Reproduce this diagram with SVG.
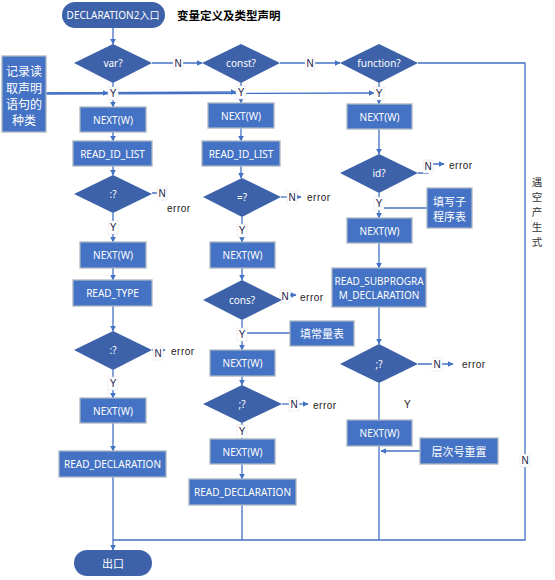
<svg xmlns="http://www.w3.org/2000/svg" width="555" height="580" viewBox="0 0 555 580">
<defs>
<marker id="ar" viewBox="0 0 10 10" refX="9" refY="5" markerWidth="6" markerHeight="6" orient="auto" markerUnits="userSpaceOnUse">
<path d="M0,0 L10,5 L0,10 z" fill="#4472C4"/>
</marker>
<style>
.t{font-family:"Noto Sans","Noto Sans CJK SC",sans-serif;font-size:10px;fill:#fff;text-anchor:middle;dominant-baseline:central}
.box{fill:#4472C4;stroke:#A9B4C4;stroke-width:1.3}
.dia{fill:#3D62AA}
.term{fill:#3D62AA}
.c{fill:none;stroke:#4472C4;stroke-width:1.3}
.ca{fill:none;stroke:#4472C4;stroke-width:1.3;marker-end:url(#ar)}
.lb rect{fill:#fff;stroke:#ddd;stroke-width:0.5}
.lb text{font-family:"Liberation Sans",sans-serif;font-size:10px;fill:#1a1a4a;text-anchor:middle;dominant-baseline:central}
.err{font-family:"Liberation Sans",sans-serif;font-size:10px;fill:#222;dominant-baseline:central;letter-spacing:0.5px}
.vt{font-family:"Noto Sans CJK SC",sans-serif;font-size:10.5px;fill:#333;text-anchor:middle;dominant-baseline:central}
</style>
</defs>
<rect width="555" height="580" fill="#fff"/>

<g id="connectors">
<path class="ca" d="M113,28 V44"/>
<path class="ca" d="M113,83 V107"/>
<path class="ca" d="M152,63 H202"/>
<path class="ca" d="M280,63 H340"/>
<path class="c" d="M418,63 H525 V540 H113"/>
<path class="ca" d="M241,83 V103"/>
<path class="ca" d="M379,83 V104"/>
<path class="ca" d="M46,93 H108"/>
<path class="ca" d="M46,93 L236,92"/>
<path class="ca" d="M46,94 L374,93"/>
<!-- left column -->
<path class="ca" d="M113,132 V141"/>
<path class="ca" d="M113,166 V175"/>
<path class="ca" d="M152,193 H163 V200"/>
<path class="ca" d="M113,213 V242"/>
<path class="ca" d="M113,268 V280"/>
<path class="ca" d="M113,306 V331"/>
<path class="ca" d="M152,350 H165"/>
<path class="ca" d="M113,370 V398"/>
<path class="ca" d="M113,423 V451"/>
<path class="ca" d="M113,477 V550"/>
<!-- middle column -->
<path class="ca" d="M241,128 V141"/>
<path class="ca" d="M241,166 V178"/>
<path class="ca" d="M281,197 H301"/>
<path class="ca" d="M242,217 V242"/>
<path class="ca" d="M242,268 V280"/>
<path class="ca" d="M282,300 H286 V295 H296"/>
<path class="ca" d="M242,320 V350"/>
<path class="c" d="M290,333 H242"/>
<path class="ca" d="M242,376 V385"/>
<path class="ca" d="M282,404 H308"/>
<path class="ca" d="M242,423 V439"/>
<path class="ca" d="M242,464 V479"/>
<path class="c" d="M242,505 V540"/>
<!-- right column -->
<path class="ca" d="M379,129 V154"/>
<path class="ca" d="M418,173 H428 V164 H444"/>
<path class="ca" d="M379,193 V218"/>
<path class="c" d="M427,208 H379"/>
<path class="ca" d="M379,243 V268"/>
<path class="ca" d="M379,307 V344"/>
<path class="ca" d="M418,364 H453"/>
<path class="c" d="M379,383 V540"/>
<path class="ca" d="M420,451 H381"/>
</g>

<g id="labels">
<g class="lb"><rect x="173" y="57" width="10" height="13"/><text x="178" y="63.5">N</text></g>
<g class="lb"><rect x="305" y="57" width="10" height="13"/><text x="310" y="63.5">N</text></g>
<g class="lb"><rect x="108" y="87" width="10" height="13"/><text x="113" y="93.5">Y</text></g>
<g class="lb"><rect x="236" y="86" width="10" height="13"/><text x="241" y="92.5">Y</text></g>
<g class="lb"><rect x="374" y="87" width="10" height="13"/><text x="379" y="93.5">Y</text></g>
<g class="lb"><rect x="157" y="187" width="10" height="13"/><text x="162" y="193.5">N</text></g>
<g class="lb"><rect x="108" y="221" width="10" height="13"/><text x="113" y="227.5">Y</text></g>
<g class="lb"><rect x="153" y="347" width="10" height="13"/><text x="158" y="353.5">N</text></g>
<g class="lb"><rect x="108" y="377" width="10" height="13"/><text x="113" y="383.5">Y</text></g>
<g class="lb"><rect x="287" y="191" width="10" height="13"/><text x="292" y="197.5">N</text></g>
<g class="lb"><rect x="237" y="224" width="10" height="13"/><text x="242" y="230.5">Y</text></g>
<g class="lb"><rect x="280" y="290" width="10" height="13"/><text x="285" y="296.5">N</text></g>
<g class="lb"><rect x="237" y="328" width="10" height="13"/><text x="242" y="334.5">Y</text></g>
<g class="lb"><rect x="289" y="398" width="10" height="13"/><text x="294" y="404.5">N</text></g>
<g class="lb"><rect x="237" y="425" width="10" height="13"/><text x="242" y="431.5">Y</text></g>
<g class="lb"><rect x="423" y="160" width="10" height="13"/><text x="428" y="166.5">N</text></g>
<g class="lb"><rect x="374" y="197" width="10" height="13"/><text x="379" y="203.5">Y</text></g>
<g class="lb"><rect x="432" y="358" width="10" height="13"/><text x="437" y="364.5">N</text></g>
<g class="lb"><rect x="520" y="454" width="10" height="13"/><text x="525" y="460.5">N</text></g>
<text class="err" x="167" y="208">error</text>
<text class="err" x="171" y="351">error</text>
<text class="err" x="307" y="197">error</text>
<text class="err" x="300" y="297">error</text>
<text class="err" x="313" y="405">error</text>
<text class="err" x="449" y="165">error</text>
<text class="err" x="462" y="364">error</text>
<text class="err" x="404" y="404" style="letter-spacing:0">Y</text>
<text x="177" y="15" style="font-family:'Noto Sans CJK SC',sans-serif;font-size:11.5px;font-weight:bold;fill:#000;dominant-baseline:central">变量定义及类型声明</text>
<text class="vt" x="537" y="181">遇</text>
<text class="vt" x="537" y="196">空</text>
<text class="vt" x="537" y="211">产</text>
<text class="vt" x="537" y="226">生</text>
<text class="vt" x="537" y="241">式</text>
</g>

<g id="start"><rect class="term" x="62" y="2" width="103" height="26" rx="13"/><text class="t" x="113" y="15">DECLARATION2入口</text></g>
<g id="end"><rect class="term" x="74" y="550" width="78" height="26" rx="13"/><text class="t" x="113" y="563" style="font-size:11px">出口</text></g>
<g id="note-kind"><rect class="box" x="2" y="56" width="44" height="76"/>
<text class="t" x="24" y="71" style="font-size:12px">记录读</text>
<text class="t" x="24" y="88" style="font-size:12px">取声明</text>
<text class="t" x="24" y="104" style="font-size:12px">语句的</text>
<text class="t" x="24" y="120" style="font-size:12px">种类</text></g>

<g id="d-var"><path class="dia" d="M113,44 L152,63 L113,83 L74,63 z"/><text class="t" x="113" y="63">var?</text></g>
<g id="d-const"><path class="dia" d="M241,44 L280,63 L241,83 L202,63 z"/><text class="t" x="241" y="63">const?</text></g>
<g id="d-function"><path class="dia" d="M379,44 L418,63 L379,83 L340,63 z"/><text class="t" x="379" y="63">function?</text></g>

<g id="l-next1"><rect class="box" x="80" y="107" width="66" height="25"/><text class="t" x="113" y="119.5">NEXT(W)</text></g>
<g id="l-readid"><rect class="box" x="73" y="141" width="79" height="25"/><text class="t" x="112.5" y="153.5">READ_ID_LIST</text></g>
<g id="l-colon1"><path class="dia" d="M113,175 L152,194 L113,213 L74,194 z"/><text class="t" x="113" y="194">:?</text></g>
<g id="l-next2"><rect class="box" x="80" y="242" width="66" height="26"/><text class="t" x="113" y="255">NEXT(W)</text></g>
<g id="l-readtype"><rect class="box" x="73" y="280" width="79" height="26"/><text class="t" x="112.5" y="293">READ_TYPE</text></g>
<g id="l-colon2"><path class="dia" d="M113,331 L152,350 L113,370 L74,350 z"/><text class="t" x="113" y="350">:?</text></g>
<g id="l-next3"><rect class="box" x="80" y="398" width="66" height="25"/><text class="t" x="113" y="410.5">NEXT(W)</text></g>
<g id="l-readdecl"><rect class="box" x="59" y="451" width="107" height="26"/><text class="t" x="112.5" y="464">READ_DECLARATION</text></g>

<g id="m-next1"><rect class="box" x="208" y="103" width="66" height="25"/><text class="t" x="241" y="115.5">NEXT(W)</text></g>
<g id="m-readid"><rect class="box" x="202" y="141" width="78" height="25"/><text class="t" x="241" y="153.5">READ_ID_LIST</text></g>
<g id="m-eq"><path class="dia" d="M242,178 L281,197 L242,217 L203,197 z"/><text class="t" x="242" y="197">=?</text></g>
<g id="m-next2"><rect class="box" x="210" y="242" width="65" height="26"/><text class="t" x="242.5" y="255">NEXT(W)</text></g>
<g id="m-cons"><path class="dia" d="M242,280 L282,300 L242,320 L203,300 z"/><text class="t" x="242" y="300">cons?</text></g>
<g id="m-fillconst"><rect class="box" x="290" y="321" width="64" height="25"/><text class="t" x="322" y="333.5" style="font-size:11px">填常量表</text></g>
<g id="m-next3"><rect class="box" x="210" y="350" width="65" height="26"/><text class="t" x="242.5" y="363">NEXT(W)</text></g>
<g id="m-semi"><path class="dia" d="M242,385 L282,404 L242,423 L203,404 z"/><text class="t" x="242" y="404">;?</text></g>
<g id="m-next4"><rect class="box" x="210" y="439" width="65" height="25"/><text class="t" x="242.5" y="451.5">NEXT(W)</text></g>
<g id="m-readdecl"><rect class="box" x="189" y="479" width="107" height="26"/><text class="t" x="242.5" y="492">READ_DECLARATION</text></g>

<g id="r-next1"><rect class="box" x="347" y="104" width="65" height="25"/><text class="t" x="379.5" y="116.5">NEXT(W)</text></g>
<g id="r-id"><path class="dia" d="M379,154 L418,173 L379,193 L340,173 z"/><text class="t" x="379" y="173">id?</text></g>
<g id="r-fillsub"><rect class="box" x="427" y="188" width="45" height="40"/><text class="t" x="449.5" y="201" style="font-size:11px">填写子</text><text class="t" x="449.5" y="216" style="font-size:11px">程序表</text></g>
<g id="r-next2"><rect class="box" x="347" y="218" width="65" height="25"/><text class="t" x="379.5" y="230.5">NEXT(W)</text></g>
<g id="r-readsub"><rect class="box" x="332" y="268" width="94" height="39"/><text class="t" x="379" y="281">READ_SUBPROGRA</text><text class="t" x="379" y="295">M_DECLARATION</text></g>
<g id="r-semi"><path class="dia" d="M379,344 L418,364 L379,383 L340,364 z"/><text class="t" x="379" y="364">;?</text></g>
<g id="r-next3"><rect class="box" x="347" y="420" width="65" height="26"/><text class="t" x="379.5" y="433">NEXT(W)</text></g>
<g id="r-reset"><rect class="box" x="420" y="438" width="78" height="26"/><text class="t" x="459" y="451" style="font-size:11px">层次号重置</text></g>
</svg>
